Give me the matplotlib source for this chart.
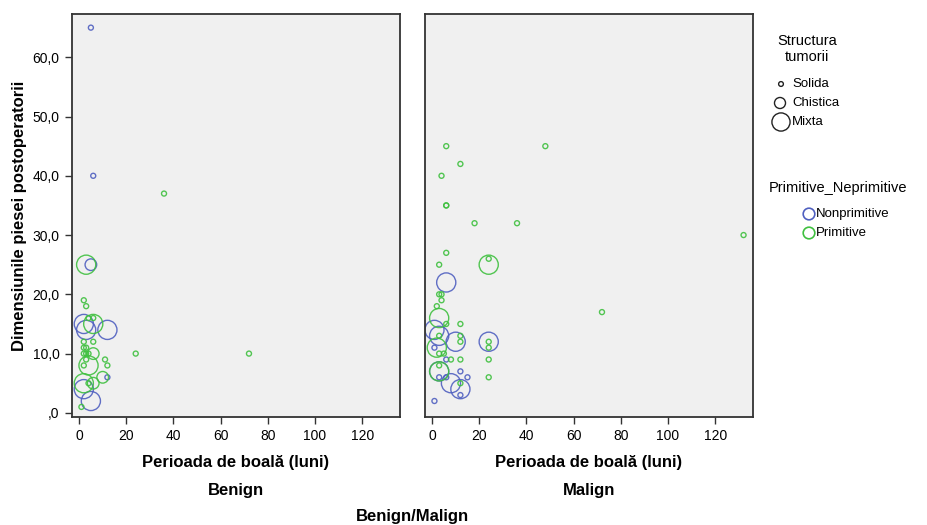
import matplotlib
matplotlib.use("Agg")
import matplotlib.pyplot as plt
from matplotlib.ticker import FuncFormatter

plt.rcParams['font.family'] = ['Liberation Sans Narrow', 'Liberation Sans', 'DejaVu Sans']

# ---- data: (period months, size, structure, group) ----
# structure: S=Solida, C=Chistica, M=Mixta ; group: N=Nonprimitive, P=Primitive
benign_period = [5, 6, 5, 2, 3, 12, 12, 2, 5,
                 36, 3, 2, 3, 6, 4, 6, 2, 6, 2, 3, 2, 3, 4, 6, 24, 72, 11, 12, 2, 4, 10, 2, 6, 1, 3, 4]
benign_size = [65, 40, 25, 15, 14, 14, 6, 4, 2,
               37, 25, 19, 18, 15, 16, 16, 12, 12, 11, 11, 10, 10, 10, 10, 10, 10, 9, 8, 8, 8, 6, 5, 5, 1, 9, 5]
benign_struct = ['S', 'S', 'C', 'M', 'M', 'M', 'S', 'M', 'M',
                 'S', 'M', 'S', 'S', 'M', 'S', 'S', 'S', 'S', 'S', 'S', 'S', 'S', 'S', 'C', 'S', 'S', 'S', 'S', 'S', 'M', 'C', 'M', 'C', 'S', 'S', 'S']
benign_group = ['N'] * 9 + ['P'] * 27

malign_period = [6, 1, 3, 10, 24, 1, 6, 3, 6, 12, 15, 8, 12, 12, 1, 3,
                 6, 48, 12, 4, 6, 6, 18, 36, 132, 6, 24, 24, 3, 3, 4, 4, 2, 3, 72, 12, 6, 3, 12, 12, 24, 24,
                 2, 3, 5, 8, 12, 24, 3, 3, 24, 12]
malign_size = [22, 14, 13, 12, 12, 11, 9, 7, 6, 7, 6, 5, 4, 3, 2, 6,
               45, 45, 42, 40, 35, 35, 32, 32, 30, 27, 26, 25, 25, 20, 20, 19, 18, 16, 17, 15, 15, 13, 13, 12, 12, 11,
               11, 10, 10, 9, 9, 9, 8, 7, 6, 5]
malign_struct = ['M', 'M', 'M', 'M', 'M', 'S', 'S', 'M', 'S', 'S', 'S', 'M', 'M', 'S', 'S', 'S',
                 'S', 'S', 'S', 'S', 'S', 'S', 'S', 'S', 'S', 'S', 'S', 'M', 'S', 'S', 'S', 'S', 'S', 'M', 'S', 'S', 'S', 'S', 'S', 'S', 'S', 'S',
                 'M', 'S', 'S', 'S', 'S', 'S', 'S', 'M', 'S', 'S']
malign_group = ['N'] * 16 + ['P'] * 36

struct_labels = ['Solida', 'Chistica', 'Mixta']
group_labels = ['Nonprimitive', 'Primitive']
panel_labels = ['Benign', 'Malign']
x_ticks = [0, 20, 40, 60, 80, 100, 120]
y_ticks = [0, 10, 20, 30, 40, 50, 60]

sizes = {'S': 13, 'C': 70, 'M': 190}
colors = {'N': '#5060c0', 'P': '#40c040'}
bg = '#f0f0f0'

W, H = 928, 525
fig = plt.figure(figsize=(W / 100, H / 100), dpi=100)


def frac(x0, y0, x1, y1):
    return [x0 / W, 1 - y1 / H, (x1 - x0) / W, (y1 - y0) / H]


ax1 = fig.add_axes(frac(72, 14, 400, 417))
ax2 = fig.add_axes(frac(425, 14, 753, 417))

fmt = FuncFormatter(lambda v, p: (',0' if v == 0 else ('%.1f' % v).replace('.', ',')))

for ax, per, sz, st, gr in [
        (ax1, benign_period, benign_size, benign_struct, benign_group),
        (ax2, malign_period, malign_size, malign_struct, malign_group)]:
    ax.set_facecolor(bg)
    ax.scatter(per, sz, s=[sizes[s] for s in st], facecolors='none',
               edgecolors=[colors[g] for g in gr], linewidths=1.0, alpha=0.9)
    ax.set_xlim(-3, 136)
    ax.set_ylim(-0.7, 67.3)
    ax.set_xticks(x_ticks)
    ax.set_xticklabels([str(t) for t in x_ticks])
    ax.set_yticks(y_ticks)
    ax.yaxis.set_major_formatter(fmt)
    for s in ax.spines.values():
        s.set_color('#333333')
        s.set_linewidth(1.3)
    ax.tick_params(axis='both', direction='out', length=5, width=1, color='#333333', labelsize=10, pad=4)

ax2.tick_params(axis='y', left=False, labelleft=False)
ax1.set_ylabel('Dimensiunile piesei postoperatorii', fontsize=12, fontweight='bold', labelpad=4)

# x labels and panel titles
for (x0, x1), lab in zip([(72, 400), (425, 753)], panel_labels):
    cx = (x0 + x1) / 2 / W
    fig.text(cx, 1 - 463 / H, 'Perioada de boală (luni)', ha='center', va='center', fontsize=12, fontweight='bold')
    fig.text(cx, 1 - 490 / H, lab, ha='center', va='center', fontsize=12, fontweight='bold')
fig.text(412 / W, 1 - 516 / H, 'Benign/Malign', ha='center', va='center', fontsize=12, fontweight='bold')

# ---- legends (overlay axes in pixel coordinates) ----
lax = fig.add_axes([0, 0, 1, 1])
lax.set_xlim(0, W)
lax.set_ylim(H, 0)
lax.axis('off')

lax.text(807, 49, 'Structura\ntumorii', ha='center', va='center', fontsize=10.5, linespacing=1.1)
struct_y = [84, 103, 122]
struct_x = [781, 780, 781]
for lab, key, yy, xx in zip(struct_labels, ['S', 'C', 'M'], struct_y, struct_x):
    lax.scatter([xx], [yy], s=sizes[key] * 0.9, facecolors='none', edgecolors='#222222', linewidths=1.0)
    lax.text(792, yy, lab, ha='left', va='center', fontsize=9.5)

lax.text(769, 188, 'Primitive_Neprimitive', ha='left', va='center', fontsize=10.5)
for lab, key, yy in zip(group_labels, ['N', 'P'], [214, 233]):
    lax.scatter([809], [yy], s=70, facecolors='none', edgecolors=colors[key], linewidths=1.2)
    lax.text(816, yy, lab, ha='left', va='center', fontsize=9.5)

fig.savefig('out.png', dpi=100)
